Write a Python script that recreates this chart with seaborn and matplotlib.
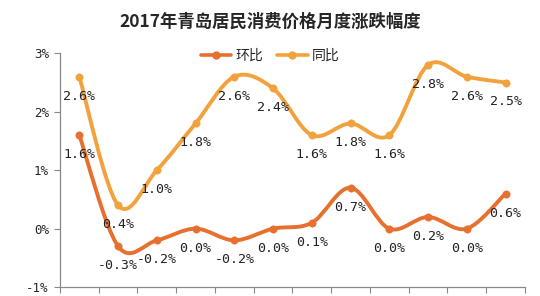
import numpy as np
import pandas as pd
import seaborn as sns
import matplotlib.pyplot as plt
from matplotlib.path import Path
from matplotlib.patches import PathPatch
from matplotlib.lines import Line2D

months = ['1月', '2月', '3月', '4月', '5月', '6月', '7月', '8月', '9月', '10月', '11月', '12月']
huanbi = [1.6, -0.3, -0.2, 0.0, -0.2, 0.0, 0.1, 0.7, 0.0, 0.2, 0.0, 0.6]
tongbi = [2.6, 0.4, 1.0, 1.8, 2.6, 2.4, 1.6, 1.8, 1.6, 2.8, 2.6, 2.5]
yticks = [-1, 0, 1, 2, 3]

c_hb = '#E8702F'
c_tb = '#F2A23C'

sns.set_style("white")
plt.rcParams['font.family'] = ['Noto Sans CJK SC', 'DejaVu Sans']


def smooth_path(xs, ys):
    # bezier (catmull-rom style) like excel smoothed lines
    pts = np.column_stack([xs, ys]).astype(float)
    n = len(pts)
    verts = [pts[0]]
    codes = [Path.MOVETO]
    for i in range(n - 1):
        p0 = pts[i - 1] if i > 0 else pts[i]
        p1 = pts[i]
        p2 = pts[i + 1]
        p3 = pts[i + 2] if i + 2 < n else pts[i + 1]
        verts += [p1 + (p2 - p0) / 6, p2 - (p3 - p1) / 6, p2]
        codes += [Path.CURVE4] * 3
    return Path(verts, codes)


df = pd.DataFrame({'month': months, 'x': range(len(months)), '环比': huanbi, '同比': tongbi})

fig = plt.figure(figsize=(5.4, 2.96), dpi=100)
ax = fig.add_axes([0.111, 0.03, 0.861, 0.79])

for col, c in [('同比', c_tb), ('环比', c_hb)]:
    ax.add_patch(PathPatch(smooth_path(df['x'], df[col]), fill=False, edgecolor=c, lw=2.8, zorder=2))
    sns.scatterplot(data=df, x='x', y=col, color=c, s=28, edgecolor=c, ax=ax, zorder=3)
    for xi, v in zip(df['x'], df[col]):
        ax.annotate(f'{v:.1f}%', (xi, v), xytext=(0, -14), textcoords='offset points',
                    ha='center', va='center', fontsize=9.5, family=['DejaVu Sans Mono'], color='#222222')

ax.set_xlim(-0.5, 11.5)
ax.set_ylim(-1, 3)
ax.set_yticks(yticks)
ax.set_yticklabels([f'{t}%' for t in yticks], fontsize=9, family=['DejaVu Sans Mono'])
ax.set_xticks(np.arange(-0.5, 12, 1))
ax.set_xticklabels([])
ax.set_xlabel('')
ax.set_ylabel('')
ax.tick_params(axis='x', direction='out', length=4, color='#888888', bottom=True)
ax.tick_params(axis='y', direction='out', length=4, color='#888888', left=True, pad=4)
for s in ['top', 'right']:
    ax.spines[s].set_visible(False)
for s in ['left', 'bottom']:
    ax.spines[s].set_color('#888888')
    ax.spines[s].set_linewidth(0.9)

handles = [Line2D([], [], color=c_hb, lw=2.6, marker='o', ms=5),
           Line2D([], [], color=c_tb, lw=2.6, marker='o', ms=5)]
fig.legend(handles, ['环比', '同比'], loc='center', bbox_to_anchor=(0.5, 0.81), ncol=2,
           frameon=False, fontsize=10, handlelength=2.2, columnspacing=1.0, handletextpad=0.3)

fig.text(0.5, 0.925, '2017年青岛居民消费价格月度涨跌幅度', ha='center', va='center',
         fontsize=12.5, fontweight='bold')

fig.savefig('out.png', dpi=100)
